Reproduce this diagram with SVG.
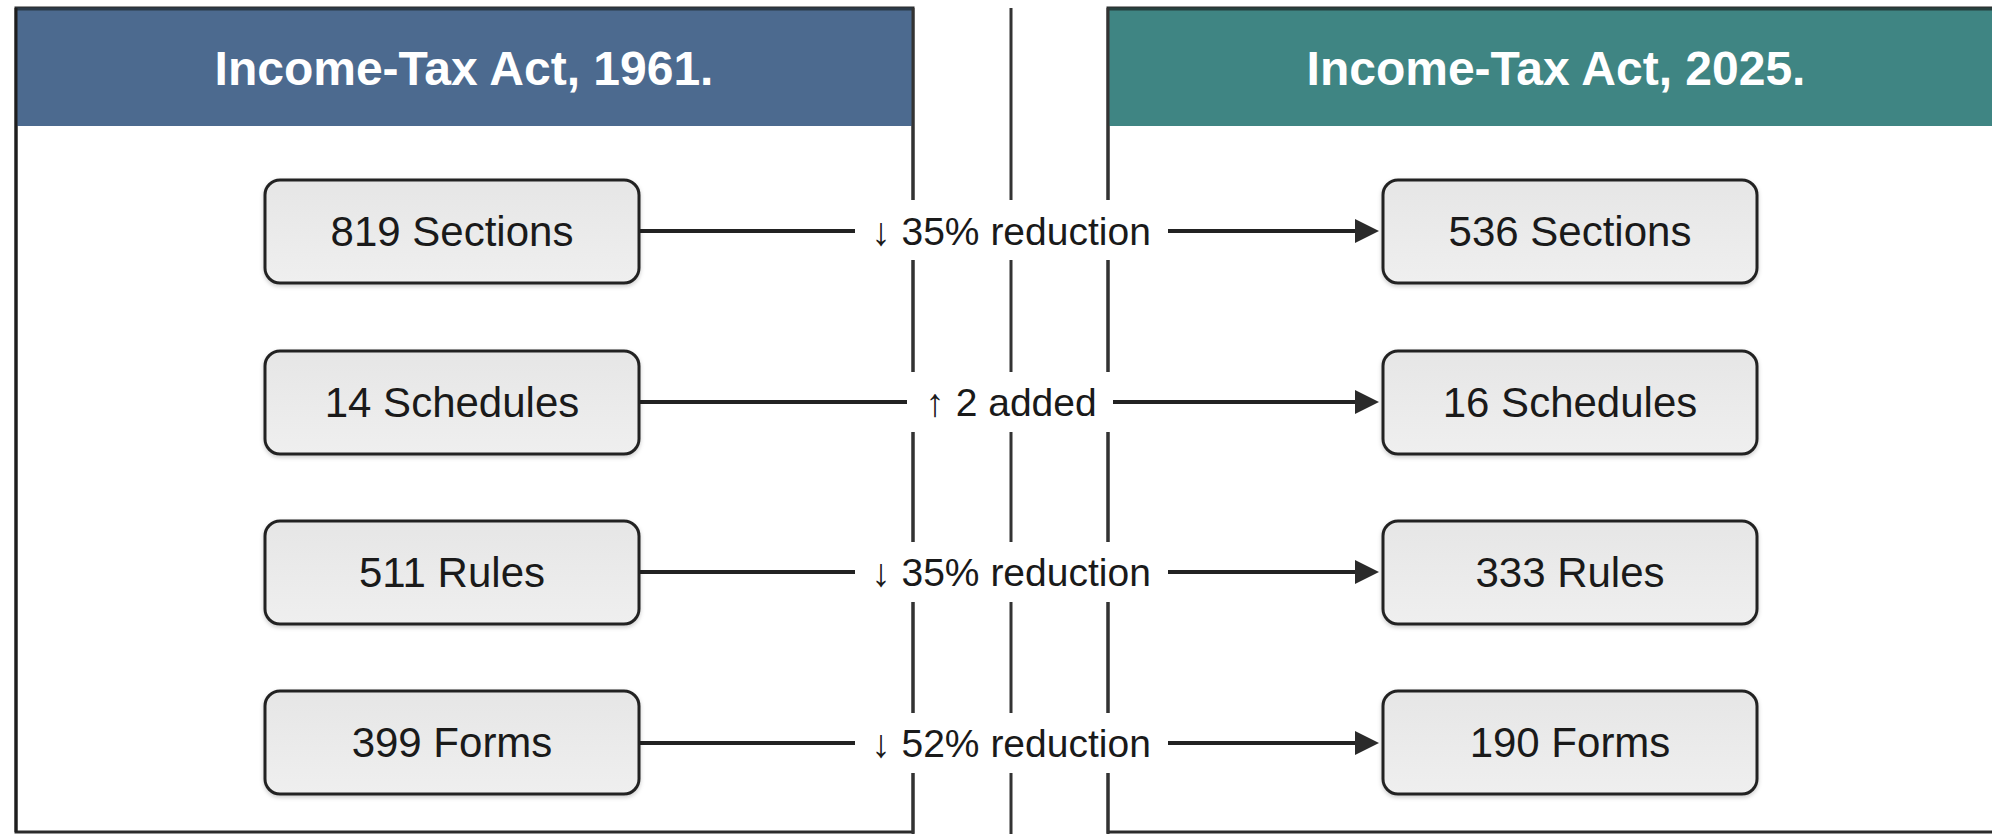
<svg xmlns="http://www.w3.org/2000/svg" width="1992" height="834" viewBox="0 0 1992 834">
  <defs>
    <linearGradient id="boxGrad" x1="0" y1="0" x2="0" y2="1">
      <stop offset="0" stop-color="#e6e6e6"/>
      <stop offset="1" stop-color="#efefef"/>
    </linearGradient>
    <marker id="arrow" viewBox="0 0 24 24" refX="1" refY="12" markerWidth="24" markerHeight="24" markerUnits="userSpaceOnUse" orient="auto">
      <path d="M0,0 L24,12 L0,24 Z" fill="#2a2a2a"/>
    </marker>
    <filter id="shadow" x="-10%" y="-10%" width="120%" height="130%">
      <feDropShadow dx="0" dy="2" stdDeviation="2" flood-color="#000" flood-opacity="0.2"/>
    </filter>
  </defs>
  <style>
    .panel { fill: #ffffff; stroke: #2b2b2b; stroke-width: 3; }
    .title { font-family: "Liberation Sans", Arial, sans-serif; font-weight: bold; font-size: 48px; fill: #ffffff; text-anchor: middle; }
    .box { fill: url(#boxGrad); stroke: #222222; stroke-width: 3; filter: url(#shadow); }
    .boxtext { font-family: "Liberation Sans", Arial, sans-serif; font-size: 42px; fill: #1a1a1a; text-anchor: middle; }
    .conn { stroke: #222222; stroke-width: 4; fill: none; }
    .divider { stroke: #333333; stroke-width: 3; }
    .lblbg { fill: #ffffff; }
    .lbl { font-family: "Liberation Sans", Arial, sans-serif; font-size: 39px; fill: #1a1a1a; text-anchor: middle; }
  </style>
  <rect x="0" y="0" width="1992" height="834" fill="#ffffff"/>

  <g id="panel-1961">
    <rect class="panel" x="16" y="8" width="897" height="824"/>
    <rect x="16" y="8" width="897" height="118" fill="#4c6a8f"/>
    <line x1="16" y1="9" x2="913" y2="9" stroke="#2b3a48" stroke-width="3"/>
    <line x1="16" y1="8" x2="16" y2="832" stroke="#1e1e1e" stroke-width="3"/>
    <line x1="913" y1="8" x2="913" y2="834" class="divider"/>
    <text class="title" x="464" y="85">Income-Tax Act, 1961.</text>
  </g>

  <g id="panel-2025">
    <rect class="panel" x="1108" y="8" width="900" height="824"/>
    <rect x="1108" y="8" width="900" height="118" fill="#3f8583"/>
    <line x1="1108" y1="9" x2="2008" y2="9" stroke="#26403f" stroke-width="3"/>
    <line x1="1108" y1="8" x2="1108" y2="834" class="divider"/>
    <text class="title" x="1556" y="85">Income-Tax Act, 2025.</text>
  </g>

  <g id="center-divider">
    <line x1="1011" y1="8" x2="1011" y2="834" class="divider"/>
  </g>

  <g id="connectors">
    <line class="conn" x1="639" y1="231" x2="1356" y2="231" marker-end="url(#arrow)"/>
    <line class="conn" x1="639" y1="402" x2="1356" y2="402" marker-end="url(#arrow)"/>
    <line class="conn" x1="639" y1="572" x2="1356" y2="572" marker-end="url(#arrow)"/>
    <line class="conn" x1="639" y1="743" x2="1356" y2="743" marker-end="url(#arrow)"/>
    <rect class="lblbg" x="855" y="200" width="313" height="60"/>
    <rect class="lblbg" x="907" y="372" width="206" height="60"/>
    <rect class="lblbg" x="855" y="542" width="313" height="60"/>
    <rect class="lblbg" x="855" y="713" width="313" height="60"/>
    <text class="lbl" x="1011" y="245">↓ 35% reduction</text>
    <text class="lbl" x="1011" y="416">↑ 2 added</text>
    <text class="lbl" x="1011" y="586">↓ 35% reduction</text>
    <text class="lbl" x="1011" y="757">↓ 52% reduction</text>
  </g>

  <g id="old-sections">
    <rect class="box" x="265" y="180" width="374" height="103" rx="15"/>
    <text class="boxtext" x="452" y="246">819 Sections</text>
  </g>
  <g id="old-schedules">
    <rect class="box" x="265" y="351" width="374" height="103" rx="15"/>
    <text class="boxtext" x="452" y="417">14 Schedules</text>
  </g>
  <g id="old-rules">
    <rect class="box" x="265" y="521" width="374" height="103" rx="15"/>
    <text class="boxtext" x="452" y="587">511 Rules</text>
  </g>
  <g id="old-forms">
    <rect class="box" x="265" y="691" width="374" height="103" rx="15"/>
    <text class="boxtext" x="452" y="757">399 Forms</text>
  </g>

  <g id="new-sections">
    <rect class="box" x="1383" y="180" width="374" height="103" rx="15"/>
    <text class="boxtext" x="1570" y="246">536 Sections</text>
  </g>
  <g id="new-schedules">
    <rect class="box" x="1383" y="351" width="374" height="103" rx="15"/>
    <text class="boxtext" x="1570" y="417">16 Schedules</text>
  </g>
  <g id="new-rules">
    <rect class="box" x="1383" y="521" width="374" height="103" rx="15"/>
    <text class="boxtext" x="1570" y="587">333 Rules</text>
  </g>
  <g id="new-forms">
    <rect class="box" x="1383" y="691" width="374" height="103" rx="15"/>
    <text class="boxtext" x="1570" y="757">190 Forms</text>
  </g>
</svg>
